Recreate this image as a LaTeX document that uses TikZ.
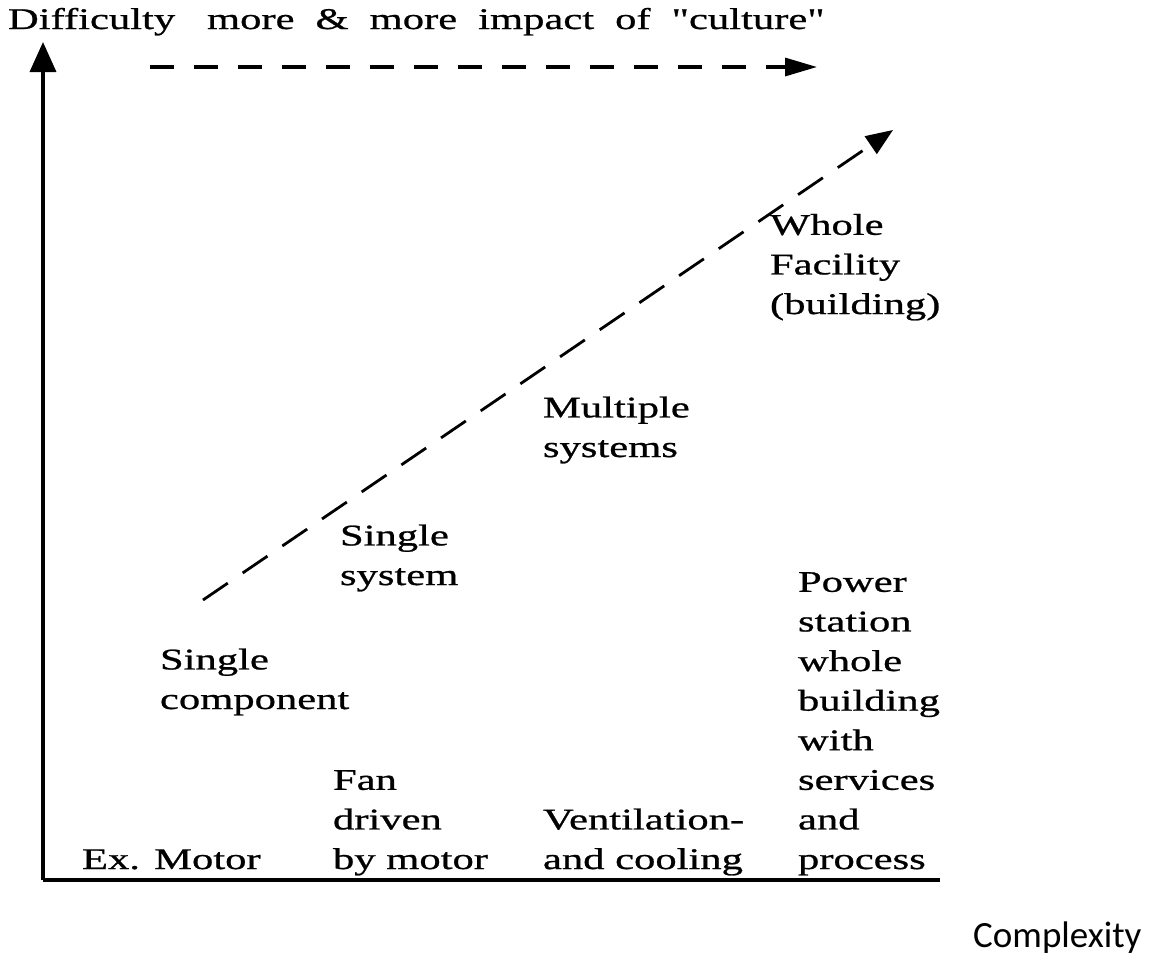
\documentclass[tikz,border=0pt]{standalone}
\usepackage{fontspec}
\setmainfont[FakeStretch=1.42,FakeBold=0.8]{Liberation Serif}
\newfontfamily\plainserif[FakeStretch=1.42,FakeBold=0.8]{Liberation Serif}
\newfontfamily\cplxfont{Carlito}
\usetikzlibrary{arrows.meta}
\begin{document}
\begin{tikzpicture}[x=1pt,y=-1pt,
  lbl/.style={anchor=base west, inner sep=0pt, outer sep=0pt, align=left,
    font=\fontsize{30}{39.6}\selectfont},
  axis/.style={line width=3.6pt},
  dasharrow/.style={line width=3.2pt, dash pattern=on 24pt off 20pt}]
\useasboundingbox (0,0) rectangle (1155,967);
% axes
\coordinate (O) at (43,880);
\coordinate (ytip) at (43,42);
\coordinate (xend) at (940,880);
\draw[axis, -{Triangle[length=30pt,width=26pt]}] (O) -- (ytip);
\draw[axis, line cap=butt] (O) -- (xend);
% axis labels
\node[lbl] (diff) at (8,29) {Difficulty};
\node[lbl, font=\plainserif\fontsize{30}{39.6}\selectfont] (culture) at (207,29) {\spaceskip=21pt plus 2pt more \& more impact of "culture"};
\node[anchor=base west, inner sep=0pt, font=\cplxfont\fontsize{37}{44}\selectfont] (cplx) at (973,947) {Complexity};
% dashed arrows
\coordinate (h1) at (150,67);
\coordinate (h2) at (817,67);
\draw[dasharrow, -{Triangle[length=32pt,width=18pt]}] (h1) -- (h2);
\coordinate (d1) at (203,600);
\coordinate (d2) at (893,130);
\draw[dasharrow, line width=2.8pt, dash pattern=on 30pt off 18pt, -{Triangle[length=27pt,width=21pt]}] (d1) -- (d2);
% level labels (anchor = baseline of last line)
\node[lbl] (whole) at (770,314) {Whole\\Facility\\(building)};
\node[lbl] (multi) at (543,457) {Multiple\\systems};
\node[lbl] (ssys) at (340,585) {Single\\system};
\node[lbl] (scomp) at (160,709) {Single\\component};
% examples
\node[lbl] (power) at (798,869) {Power\\station\\whole\\building\\with\\services\\and\\process};
\node[lbl] (fan) at (333,869) {Fan\\driven\\by motor};
\node[lbl] (vent) at (543,869) {Ventilation-\\and cooling};
\node[lbl] (motor) at (82,869) {Ex. Motor};
\end{tikzpicture}
\end{document}
